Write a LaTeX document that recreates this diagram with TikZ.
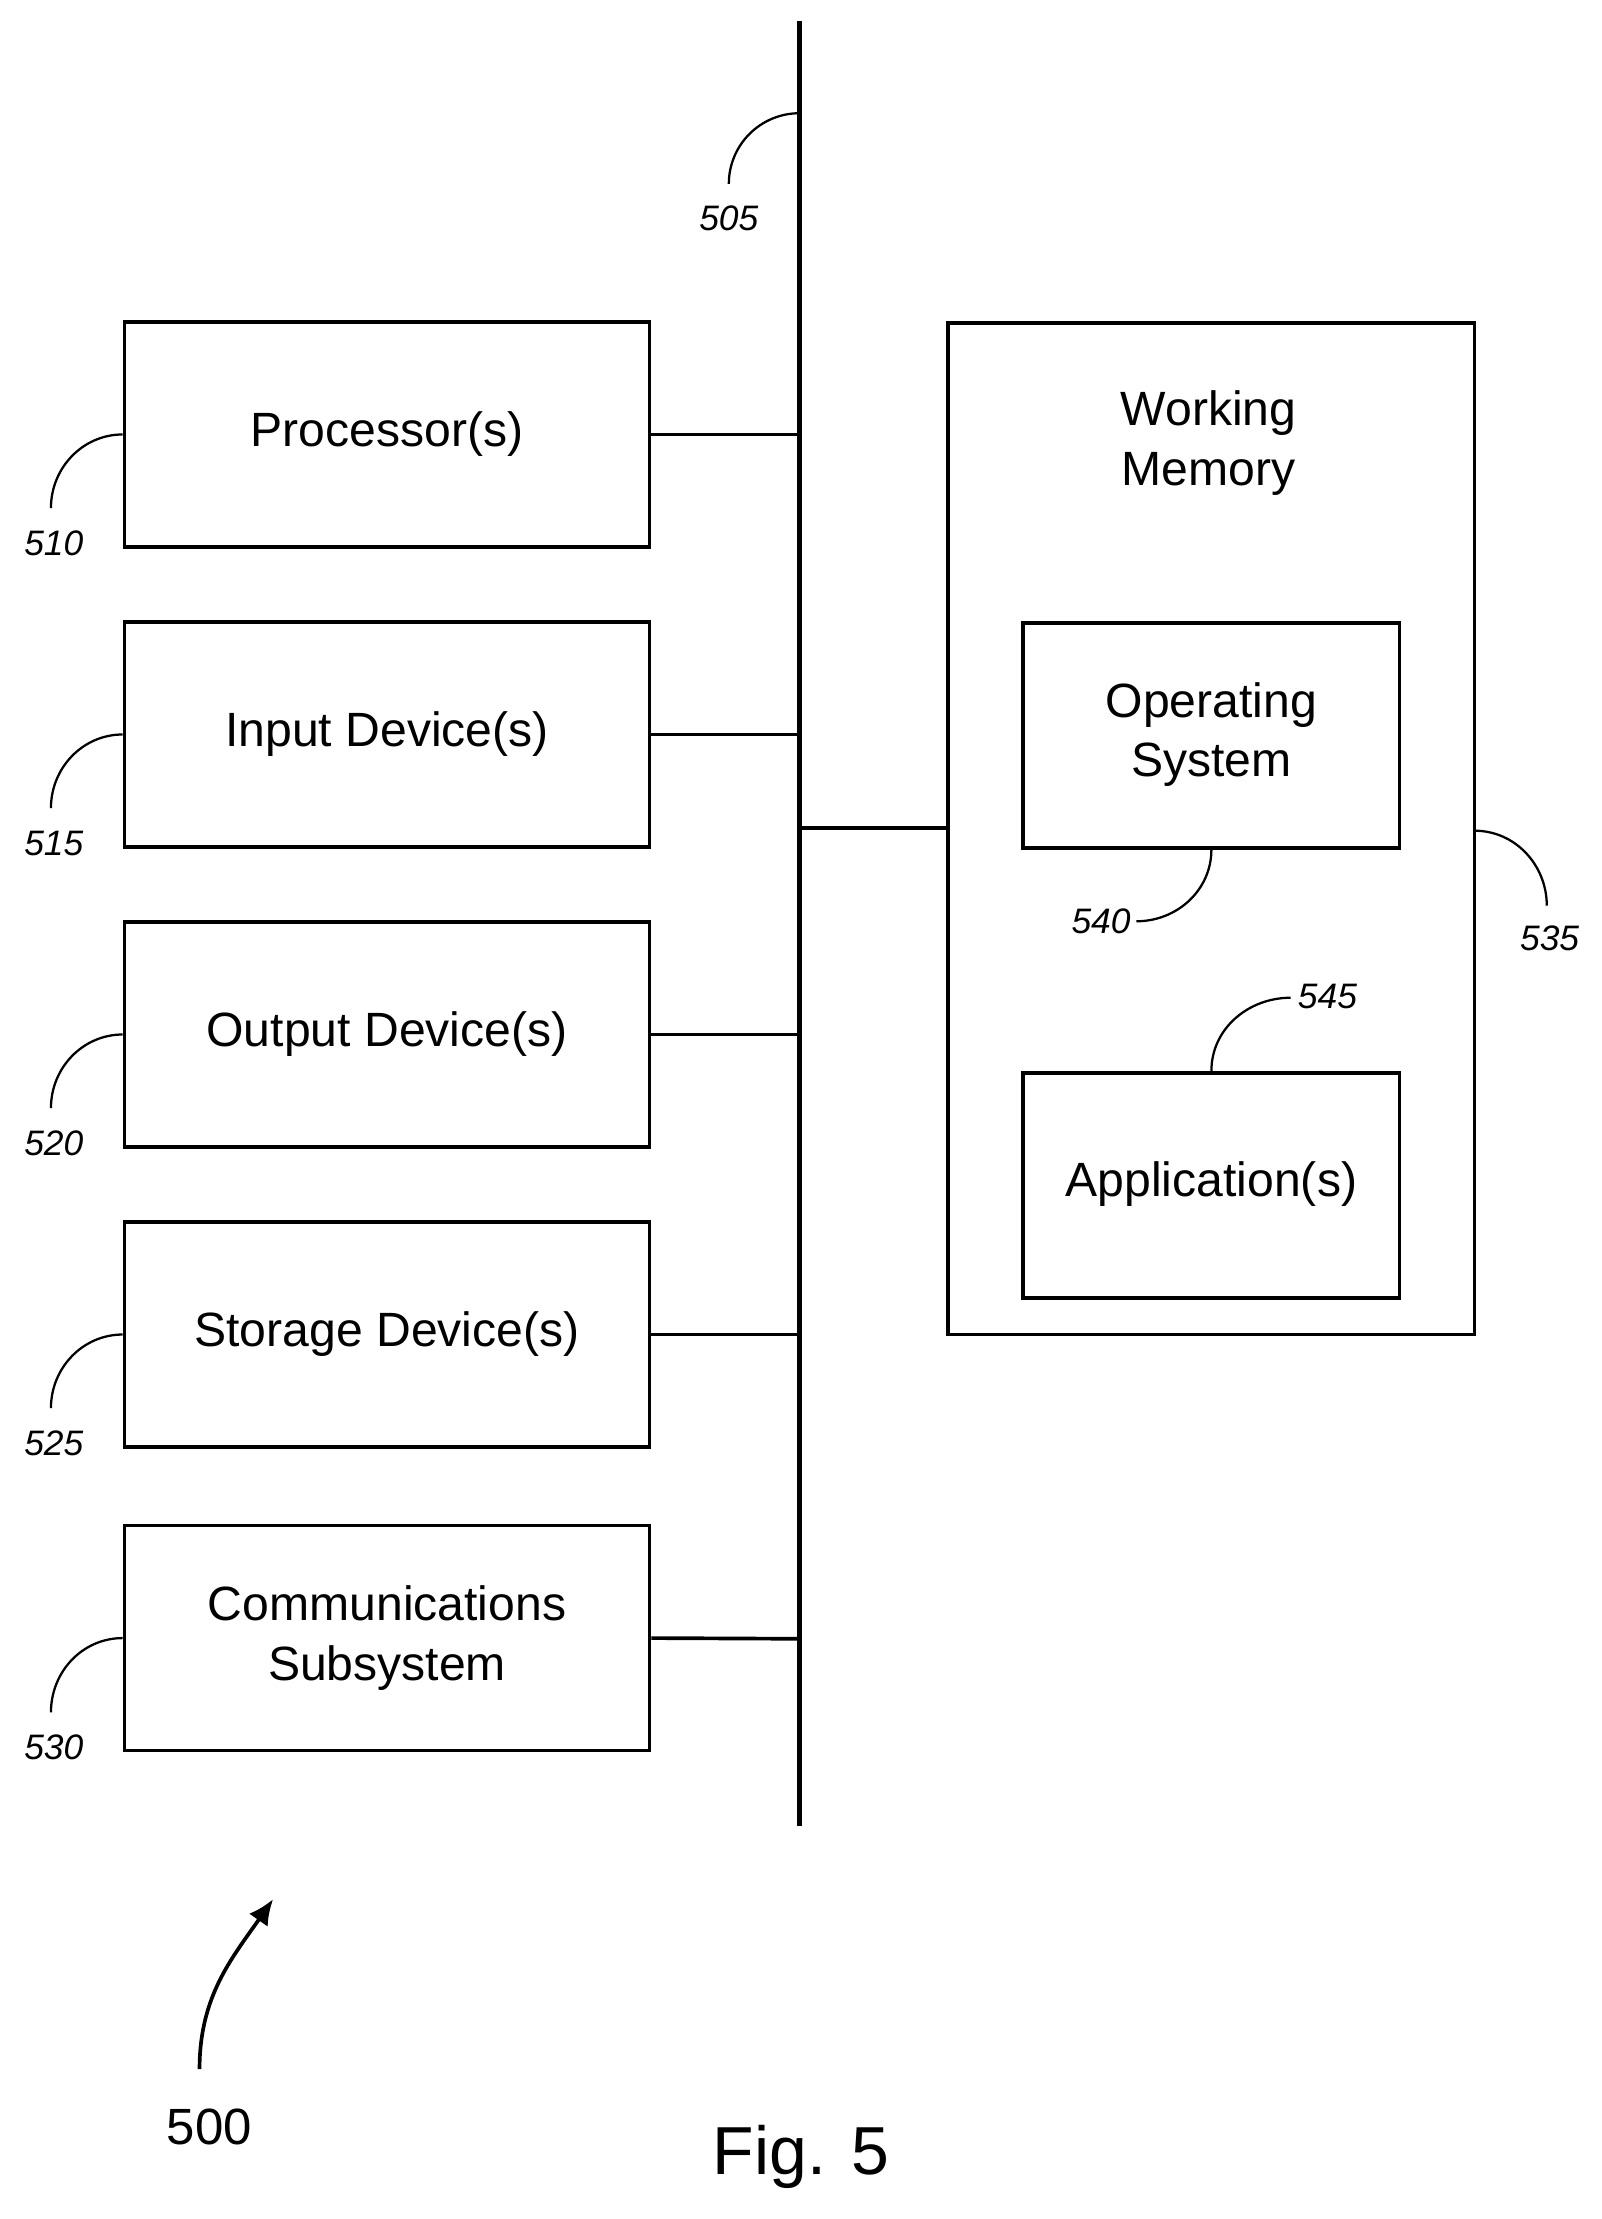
\documentclass[tikz,border=0pt]{standalone}
\usepackage{fontspec}
\setmainfont{Liberation Sans}
\usetikzlibrary{arrows.meta}
\begin{document}
\begin{tikzpicture}[x=0.5pt,y=-0.5pt,
 box/.style={draw,line width=1.3pt,inner sep=0pt},
 lab/.style={font=\fontsize{12.5}{14}\selectfont\itshape},
 txt/.style={font=\fontsize{17}{21}\selectfont,align=center},
 ln/.style={line width=1.3pt},
 ld/.style={line width=0.8pt}]
\useasboundingbox (0,0) rectangle (1132,1568);
\draw[line width=1.6pt] (565,15) coordinate(bt) -- (565,1290) coordinate(bb);
\foreach \n/\t/\y/\l in {p/Processor(s)/307/510, i/Input Device(s)/519/515, o/Output Device(s)/731/520, s/Storage Device(s)/943/525}{
 \node[box,minimum width=185.5pt,minimum height=79.5pt] (\n) at (273.5,\y) {};
 \node[txt] at (273.5,\y) {\t};
 \coordinate (b\n) at (565,\y);
 \draw[ln] (\n.east) -- (b\n);
 \coordinate (c\n) at (36,\y+52);
 \draw[ld] (\n.west) to[out=180,in=90] (c\n);
 \node[lab] at (38,\y+77) {\l};
}
\node[box,minimum width=185.5pt,minimum height=79.5pt] (c) at (273.5,1157.5) {};
\node[txt] at (273.5,1157.5) {Communications\\Subsystem};
\coordinate (bc) at (565,1158);
\draw[ln] (c.east) -- (bc);
\coordinate (cc) at (36,1210);
\draw[ld] (c.west) to[out=180,in=90] (cc);
\node[lab] at (38,1235) {530};
\coordinate (b505) at (565,80);
\coordinate (e505) at (515,130);
\draw[ld] (b505) to[out=180,in=90] (e505);
\node[lab] at (515,154) {505};
\node[box,minimum width=186pt,minimum height=357.5pt] (wm) at (856,585.5) {};
\node[txt] at (854,313) {Working\\Memory};
\coordinate (bw) at (565,585);
\draw[ln] (bw) -- (bw-|wm.west);
\node[box,minimum width=133pt,minimum height=79.5pt] (os) at (856,519.5) {};
\node[txt] at (856,519) {Operating\\System};
\node[box,minimum width=133pt,minimum height=79.5pt] (app) at (856,837.5) {};
\node[txt] at (856,837) {Application(s)};
\coordinate (e535) at (1093,640);
\draw[ld] (1042,587) to[out=0,in=90] (e535);
\node[lab] at (1095,663) {535};
\coordinate (e540) at (803,651);
\draw[ld] (os.south) to[out=-90,in=0] (e540);
\node[lab] at (778,651) {540};
\coordinate (e545) at (912,705);
\draw[ld] (app.north) to[out=90,in=180] (e545);
\node[lab] at (938,704) {545};
\coordinate (a0) at (141,1462);
\coordinate (a1) at (193,1342);
\draw[line width=1.3pt,-{Latex[length=9pt,width=8pt]}] (a0) to[out=90,in=235] (a1);
\node[font=\fontsize{18}{20}\selectfont] at (148,1503) {500};
\node[font=\fontsize{24}{28}\selectfont] at (566,1524) {Fig. 5};
\end{tikzpicture}
\end{document}
